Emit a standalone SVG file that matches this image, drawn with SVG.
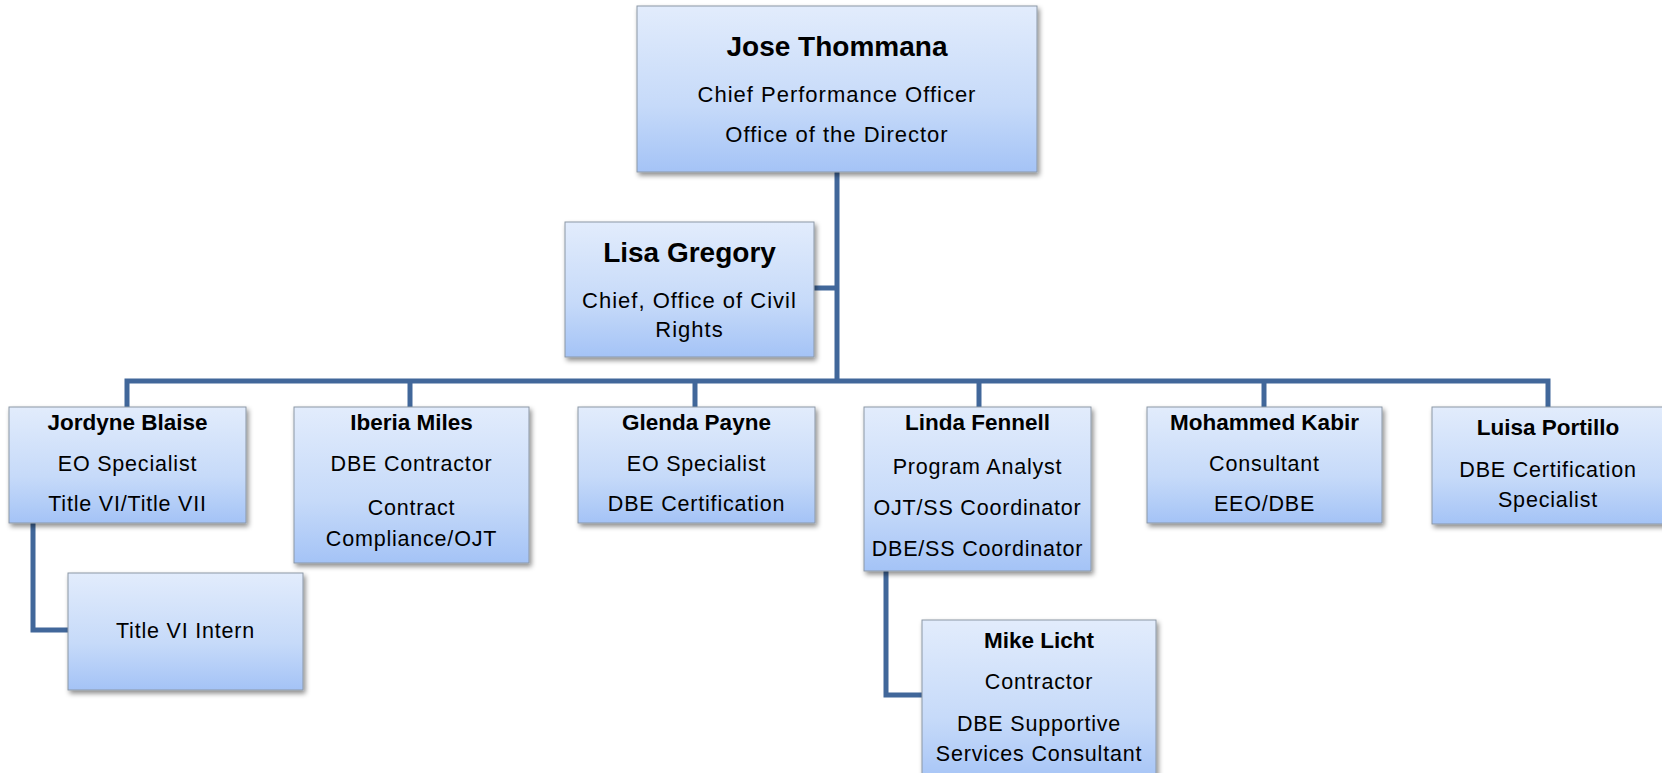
<svg xmlns="http://www.w3.org/2000/svg" width="1662" height="773" viewBox="0 0 1662 773">
  <defs>
    <linearGradient id="boxFill" x1="0" y1="0" x2="0" y2="1">
      <stop offset="0" stop-color="#e2ecfc"/>
      <stop offset="0.6" stop-color="#c6daf9"/>
      <stop offset="1" stop-color="#a4c3f6"/>
    </linearGradient>
    <filter id="shadow" x="-10%" y="-10%" width="130%" height="140%">
      <feDropShadow dx="2" dy="3" stdDeviation="2.5" flood-color="#000" flood-opacity="0.45"/>
    </filter>
  </defs>
  <style>
    .box { fill: url(#boxFill); stroke: #8c97a6; stroke-width: 1; filter: url(#shadow); }
    .link { fill: none; stroke: #41679a; stroke-width: 5; stroke-linejoin: miter; }
    text { font-family: "Liberation Sans", Arial, sans-serif; fill: #000; text-anchor: middle; }
    .name-lg { font-size: 28px; font-weight: bold; }
    .role-lg { font-size: 22px; letter-spacing: 1px; }
    .name { font-size: 22.5px; font-weight: bold; }
    .role { font-size: 21.5px; letter-spacing: 0.8px; }
  </style>
  <rect width="1662" height="773" fill="#fff"/>

  <!-- reporting lines -->
  <g id="connectors">
    <path class="link" d="M837 172 V381"/>
    <path class="link" d="M814 288 H837"/>
    <path class="link" d="M127 407 V381 H1548 V407"/>
    <path class="link" d="M410 381 V407"/>
    <path class="link" d="M695 381 V407"/>
    <path class="link" d="M979 381 V407"/>
    <path class="link" d="M1264 381 V407"/>
    <path class="link" d="M33 523 V630 H68"/>
    <path class="link" d="M886 571 V695 H922"/>
  </g>

  <g id="jose-thommana">
    <rect class="box" x="637" y="6" width="400" height="166"/>
    <text class="name-lg" x="837" y="56">Jose Thommana</text>
    <text class="role-lg" x="837" y="102">Chief Performance Officer</text>
    <text class="role-lg" x="837" y="142">Office of the Director</text>
  </g>

  <g id="lisa-gregory">
    <rect class="box" x="565" y="222" width="249" height="135"/>
    <text class="name-lg" x="689.5" y="262">Lisa Gregory</text>
    <text class="role-lg" x="689.5" y="308">Chief, Office of Civil</text>
    <text class="role-lg" x="689.5" y="337">Rights</text>
  </g>

  <g id="jordyne-blaise">
    <rect class="box" x="9" y="407" width="237" height="116"/>
    <text class="name" x="127.5" y="430">Jordyne Blaise</text>
    <text class="role" x="127.5" y="471">EO Specialist</text>
    <text class="role" x="127.5" y="511">Title VI/Title VII</text>
  </g>

  <g id="iberia-miles">
    <rect class="box" x="294" y="407" width="235" height="156"/>
    <text class="name" x="411.5" y="430">Iberia Miles</text>
    <text class="role" x="411.5" y="471">DBE Contractor</text>
    <text class="role" x="411.5" y="515">Contract</text>
    <text class="role" x="411.5" y="546">Compliance/OJT</text>
  </g>

  <g id="glenda-payne">
    <rect class="box" x="578" y="407" width="237" height="116"/>
    <text class="name" x="696.5" y="430">Glenda Payne</text>
    <text class="role" x="696.5" y="471">EO Specialist</text>
    <text class="role" x="696.5" y="511">DBE Certification</text>
  </g>

  <g id="linda-fennell">
    <rect class="box" x="864" y="407" width="227" height="164"/>
    <text class="name" x="977.5" y="430">Linda Fennell</text>
    <text class="role" x="977.5" y="474">Program Analyst</text>
    <text class="role" x="977.5" y="515">OJT/SS Coordinator</text>
    <text class="role" x="977.5" y="556">DBE/SS Coordinator</text>
  </g>

  <g id="mohammed-kabir">
    <rect class="box" x="1147" y="407" width="235" height="116"/>
    <text class="name" x="1264.5" y="430">Mohammed Kabir</text>
    <text class="role" x="1264.5" y="471">Consultant</text>
    <text class="role" x="1264.5" y="511">EEO/DBE</text>
  </g>

  <g id="luisa-portillo">
    <rect class="box" x="1432" y="407" width="234" height="117"/>
    <text class="name" x="1548" y="435">Luisa Portillo</text>
    <text class="role" x="1548" y="477">DBE Certification</text>
    <text class="role" x="1548" y="507">Specialist</text>
  </g>

  <g id="title-vi-intern">
    <rect class="box" x="68" y="573" width="235" height="117"/>
    <text class="role" x="185.5" y="638">Title VI Intern</text>
  </g>

  <g id="mike-licht">
    <rect class="box" x="922" y="620" width="234" height="165"/>
    <text class="name" x="1039" y="648">Mike Licht</text>
    <text class="role" x="1039" y="689">Contractor</text>
    <text class="role" x="1039" y="731">DBE Supportive</text>
    <text class="role" x="1039" y="761">Services Consultant</text>
  </g>
</svg>
